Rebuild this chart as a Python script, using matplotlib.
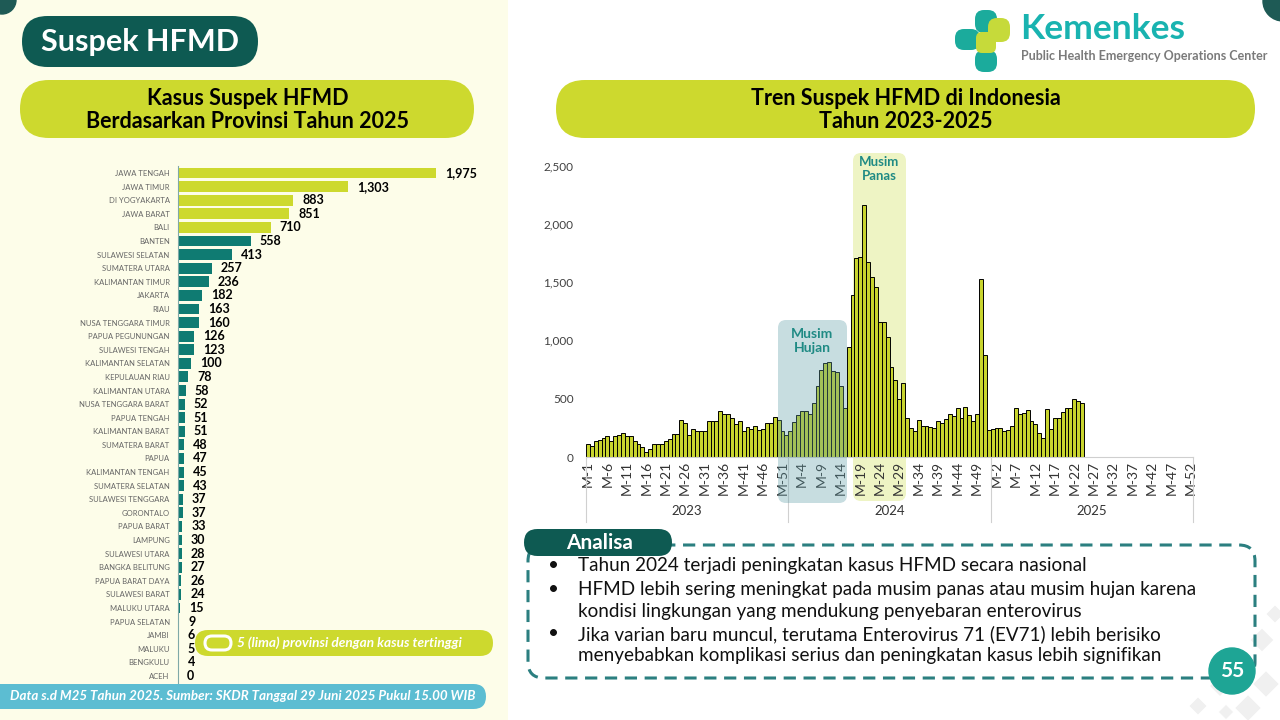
import numpy as np
import matplotlib
matplotlib.use("Agg")
import matplotlib.pyplot as plt
from matplotlib.patches import FancyBboxPatch, Rectangle, Circle
from matplotlib.transforms import blended_transform_factory

plt.rcParams['font.family'] = ['Lato', 'DejaVu Sans']

# ---- data: provinces 2025
provinces = ["JAWA TENGAH", "JAWA TIMUR", "DI YOGYAKARTA", "JAWA BARAT", "BALI",
             "BANTEN", "SULAWESI SELATAN", "SUMATERA UTARA", "KALIMANTAN TIMUR",
             "JAKARTA", "RIAU", "NUSA TENGGARA TIMUR", "PAPUA PEGUNUNGAN",
             "SULAWESI TENGAH", "KALIMANTAN SELATAN", "KEPULAUAN RIAU",
             "KALIMANTAN UTARA", "NUSA TENGGARA BARAT", "PAPUA TENGAH",
             "KALIMANTAN BARAT", "SUMATERA BARAT", "PAPUA", "KALIMANTAN TENGAH",
             "SUMATERA SELATAN", "SULAWESI TENGGARA", "GORONTALO", "PAPUA BARAT",
             "LAMPUNG", "SULAWESI UTARA", "BANGKA BELITUNG", "PAPUA BARAT DAYA",
             "SULAWESI BARAT", "MALUKU UTARA", "PAPUA SELATAN", "JAMBI", "MALUKU",
             "BENGKULU", "ACEH"]
kasus = [1975, 1303, 883, 851, 710, 558, 413, 257, 236, 182, 163, 160, 126, 123,
         100, 78, 58, 52, 51, 51, 48, 47, 45, 43, 37, 37, 33, 30, 28, 27, 26, 24,
         15, 9, 6, 5, 4, 0]

# ---- data: weekly trend
years = [2023, 2024, 2025]
weeks_per_year = 52
tren_2023 = [115, 97, 135, 143, 166, 183, 140, 177, 192, 209, 183, 183, 140, 115,
             89, 43, 69, 115, 115, 115, 140, 157, 200, 200, 321, 295, 192, 243,
             220, 226, 220, 312, 312, 312, 398, 367, 372, 338, 286, 312, 226, 260,
             243, 269, 235, 243, 295, 295, 347, 321, 220, 192]
tren_2024 = [226, 304, 364, 398, 398, 372, 467, 613, 750, 802, 819, 736, 727, 613,
             424, 942, 1389, 1704, 1713, 2162, 1670, 1547, 1455, 1160, 1154, 1025,
             768, 664, 501, 638, 338, 252, 226, 321, 269, 269, 260, 252, 312, 295,
             330, 372, 355, 424, 338, 433, 364, 312, 372, 1524, 879, 235]
tren_2025 = [243, 252, 252, 226, 235, 269, 424, 372, 381, 407, 312, 286, 209, 166,
             415, 243, 338, 338, 390, 424, 424, 501, 484, 467]

analisa = [
    ("\u2022", "Tahun 2024 terjadi peningkatan kasus HFMD secara nasional"),
    ("\u2022", "HFMD lebih sering meningkat pada musim panas atau musim hujan karena"),
    ("", "kondisi lingkungan yang mendukung penyebaran enterovirus"),
    ("\u2022", "Jika varian baru muncul, terutama Enterovirus 71 (EV71) lebih berisiko"),
    ("", "menyebabkan komplikasi serius dan peningkatan kasus lebih signifikan"),
]

LIME = '#cdd92e'
TEAL = '#0f7b72'
DARK = '#0e5a52'

W, H = 1280, 720
fig = plt.figure(figsize=(12.8, 7.2), dpi=100)
fig.patch.set_facecolor('white')


def frac(x0, y0, x1, y1):
    return [x0 / W, 1 - y1 / H, (x1 - x0) / W, (y1 - y0) / H]


# overlay in pixel coordinates
ax0 = fig.add_axes([0, 0, 1, 1])
ax0.set_xlim(0, W)
ax0.set_ylim(H, 0)
ax0.axis('off')


def pill(x0, y0, x1, y1, color, r=None, ax=ax0, **kw):
    if r is None:
        r = (y1 - y0) / 2
    p = FancyBboxPatch((x0, y0), x1 - x0, y1 - y0,
                       boxstyle=f"round,pad=0,rounding_size={r}",
                       facecolor=color, edgecolor='none', transform=ax0.transData, **kw)
    ax.add_patch(p)
    return p


ax0.add_patch(Rectangle((0, 0), 508, H, facecolor='#fdfde9', edgecolor='none'))
ax0.add_patch(Circle((2, 0), 14, color='#1e5a55'))
ax0.add_patch(Circle((1283, 1), 20, color='#1e5a55'))

# faint batik decoration bottom right
for cx, cy, s in [(1262, 640, 8), (1243, 662, 8), (1266, 684, 9), (1220, 686, 7),
                  (1248, 708, 9), (1198, 706, 6), (1275, 614, 6), (1226, 712, 5)]:
    ax0.add_patch(Rectangle((cx - s, cy - s), 2 * s, 2 * s, angle=45, facecolor='#f0f0f0',
                            edgecolor='none', rotation_point='center'))

pill(22, 16, 258, 67, DARK)
ax0.text(140, 42, "Suspek HFMD", color='white', fontsize=22, fontweight='bold',
         ha='center', va='center')

pill(20, 80, 474, 138, LIME)
ax0.text(248, 110, "Kasus Suspek HFMD\nBerdasarkan Provinsi Tahun 2025", fontsize=15.5,
         fontweight='bold', ha='center', va='center', linespacing=1.1)
pill(556, 80, 1255, 138, LIME)
ax0.text(906, 110, "Tren Suspek HFMD di Indonesia\nTahun 2023-2025", fontsize=15.5,
         fontweight='bold', ha='center', va='center', linespacing=1.1)

# logo
pill(955, 29, 980, 50, '#1bab9c', r=9)
pill(975, 10, 997, 33, '#1bab9c', r=9)
pill(975, 50, 997, 72, '#1bab9c', r=9)
pill(988, 18, 1010, 42, '#c6da3a', r=9)
pill(976, 32, 996, 53, '#c6da3a', r=6)
ax0.text(1020, 29, "Kemenkes", color='#19b3b0', fontsize=25.5, fontweight='bold',
         ha='left', va='center')
ax0.text(1021, 56, "Public Health Emergency Operations Center", color='#7a7a7a',
         fontsize=9, fontweight='bold', ha='left', va='center')

# ---- left bar chart
px_per_case = 0.1306
ax1 = fig.add_axes(frac(178, 166.2, 500, 682.8))
ax1.set_facecolor('none')
ypos = np.arange(len(provinces))
colors = [LIME] * 5 + [TEAL] * (len(provinces) - 5)
ax1.barh(ypos, kasus, height=0.8, color=colors)
ax1.set_xlim(0, (500 - 178) / px_per_case)
ax1.set_ylim(len(provinces) - 0.5, -0.5)
ax1.set_yticks(ypos)
ax1.set_yticklabels(provinces, fontsize=5.5, color='#666666')
ax1.set_xticks([])
ax1.tick_params(axis='y', length=0, pad=6)
for s in ['top', 'right', 'bottom']:
    ax1.spines[s].set_visible(False)
ax1.spines['left'].set_color('#7fa9a8')
ax1.spines['left'].set_linewidth(0.8)
for i, v in enumerate(kasus):
    ax1.annotate(f"{v:,}", xy=(v, i), xytext=(6.5, 0), textcoords='offset points',
                 ha='left', va='center', fontsize=9, fontweight='bold')

# legend + footer
pill(195, 630, 493, 656, LIME)
pill(205, 636, 231, 650, 'none', r=7, linewidth=2.2).set_edgecolor('white')
ax0.text(237, 643, "5 (lima) provinsi dengan kasus tertinggi", color='white',
         fontsize=9.8, fontweight='bold', fontstyle='italic', ha='left', va='center')
pill(-30, 684, 486, 709, '#5cbdd2')
ax0.text(243, 696.5, "Data s.d M25 Tahun 2025. Sumber: SKDR Tanggal 29 Juni 2025 Pukul 15.00 WIB",
         color='white', fontsize=9.6, fontweight='bold', fontstyle='italic',
         ha='center', va='center')

# ---- right trend chart
tren = tren_2023 + tren_2024 + tren_2025
n_total = weeks_per_year * len(years)
week_no = [w for _ in years for w in range(1, weeks_per_year + 1)]

ax2 = fig.add_axes(frac(586, 165.5, 1193, 457))
ax2.set_facecolor('none')
ax2.bar(np.arange(len(tren)), tren, width=1.0, color='#c8d42e', edgecolor='black',
        linewidth=0.7, zorder=2)
ax2.set_xlim(-0.5, n_total - 0.5)
ax2.set_ylim(0, 2500)
ax2.set_yticks(range(0, 2501, 500))
ax2.set_yticklabels([f"{t:,}" for t in range(0, 2501, 500)], fontsize=8.5, color='#404040')
xt = list(range(0, n_total, 5))
ax2.set_xticks(xt)
ax2.set_xticklabels([f"M-{week_no[i]}" for i in xt], rotation=90, fontsize=10, color='#333333')
ax2.tick_params(axis='y', length=0, pad=9)
ax2.tick_params(axis='x', length=0, pad=3)
for s in ['top', 'right', 'left']:
    ax2.spines[s].set_visible(False)
ax2.spines['bottom'].set_color('#cfcfcf')

# seasons (pixel coordinates)
pill(853, 153, 906, 501, '#eef4c4', r=8, ax=ax2, zorder=0.5, clip_on=False)
pill(778, 320, 847, 503, '#5f9ea8', r=8, ax=ax2, zorder=3, alpha=0.35, clip_on=False)
ax2.text(812, 341, "Musim\nHujan", transform=ax0.transData, color='#1f8a84', fontsize=10,
         fontweight='bold', ha='center', va='center', zorder=4, linespacing=1.1)
ax2.text(879, 169, "Musim\nPanas", transform=ax0.transData, color='#1f8a84', fontsize=9.5,
         fontweight='bold', ha='center', va='center', zorder=4, linespacing=1.1)

# year category axis
blend = blended_transform_factory(ax2.transData, ax0.transData)
for k in range(len(years) + 1):
    xb = k * weeks_per_year - 0.5
    ax2.plot([xb, xb], [457, 522], transform=blend, color='#d0d0d0', lw=0.8, clip_on=False)
for k, yr in enumerate(years):
    ax2.text(k * weeks_per_year + weeks_per_year / 2 - 0.5, 511, str(yr), transform=blend,
             ha='center', va='center', fontsize=9.5, color='#333333')

# ---- analisa box
box = FancyBboxPatch((528, 545), 1255 - 528, 678 - 545,
                     boxstyle="round,pad=0,rounding_size=16", facecolor='none',
                     edgecolor='#2b7f80', linewidth=2.2, linestyle=(0, (4, 2.5)))
ax0.add_patch(box)
pill(524, 529, 672, 556, DARK)
ax0.text(600, 543, "Analisa", color='white', fontsize=15, fontweight='bold',
         ha='center', va='center')
line_y = [566, 589, 611, 634, 656]
for (b, t), yy in zip(analisa, line_y):
    if b:
        ax0.text(553, yy, b, fontsize=13.5, ha='center', va='center', color='#111111')
    ax0.text(578, yy, t, fontsize=13.6, ha='left', va='center', color='#111111')

ax0.add_patch(Circle((1232, 671), 23, color='#1ea595'))
ax0.text(1232, 671, "55", color='white', fontsize=15, fontweight='bold',
         ha='center', va='center')

fig.savefig("out.png", dpi=100)
